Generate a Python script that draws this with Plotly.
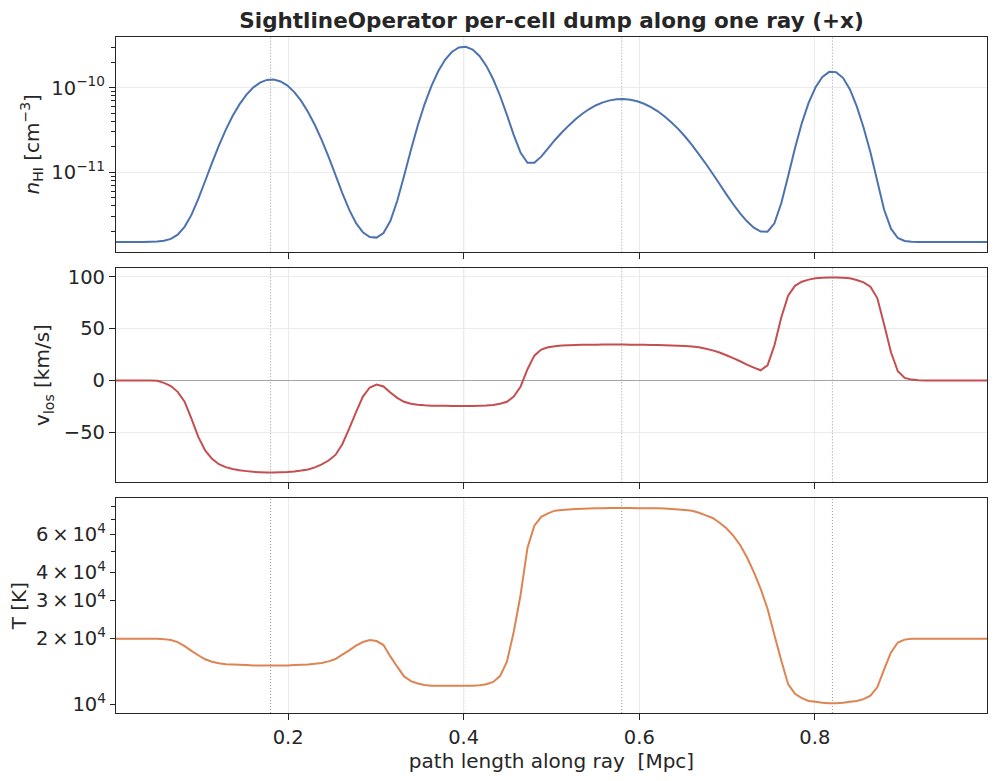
import numpy as np
import plotly.graph_objects as go
from plotly.subplots import make_subplots

# ---------------- data ----------------
n_cells = 128
path_mpc = (np.arange(n_cells) + 0.5) / n_cells   # cell centres along the ray [Mpc]

n_hi = [
    1.5e-12, 1.5e-12, 1.5e-12, 1.5e-12, 1.5e-12, 1.51e-12, 1.52e-12, 1.55e-12,
    1.63e-12, 1.83e-12, 2.26e-12, 3.13e-12, 4.85e-12, 7.88e-12, 1.292e-11, 2.067e-11,
    3.17e-11, 4.62e-11, 6.35e-11, 8.23e-11, 1.005e-10, 1.151e-10, 1.238e-10, 1.251e-10,
    1.187e-10, 1.059e-10, 8.87e-11, 6.99e-11, 5.17e-11, 3.62e-11, 2.40e-11, 1.518e-11,
    9.31e-12, 5.68e-12, 3.61e-12, 2.50e-12, 1.944e-12, 1.714e-12, 1.687e-12, 1.907e-12,
    2.65e-12, 4.57e-12, 9.05e-12, 1.83e-11, 3.57e-11, 6.41e-11, 1.053e-10, 1.579e-10,
    2.152e-10, 2.663e-10, 2.992e-10, 3.053e-10, 2.823e-10, 2.372e-10, 1.812e-10, 1.260e-10,
    8.04e-11, 4.77e-11, 2.755e-11, 1.70e-11, 1.297e-11, 1.296e-11, 1.531e-11, 1.917e-11,
    2.409e-11, 2.95e-11, 3.56e-11, 4.24e-11, 4.93e-11, 5.60e-11, 6.21e-11, 6.71e-11,
    7.09e-11, 7.31e-11, 7.34e-11, 7.22e-11, 6.91e-11, 6.46e-11, 5.89e-11, 5.26e-11,
    4.57e-11, 3.88e-11, 3.24e-11, 2.63e-11, 2.09e-11, 1.63e-11, 1.26e-11, 9.6e-12,
    7.25e-12, 5.48e-12, 4.18e-12, 3.26e-12, 2.63e-12, 2.21e-12, 1.99e-12, 1.98e-12,
    2.49e-12, 4.29e-12, 8.98e-12, 1.92e-11, 3.82e-11, 6.66e-11, 1.014e-10, 1.343e-10,
    1.541e-10, 1.53e-10, 1.31e-10, 9.6e-11, 6.05e-11, 3.38e-11, 1.72e-11, 7.9e-12,
    3.6e-12, 2.15e-12, 1.67e-12, 1.54e-12, 1.51e-12, 1.5e-12, 1.5e-12, 1.5e-12,
    1.5e-12, 1.5e-12, 1.5e-12, 1.5e-12, 1.5e-12, 1.5e-12, 1.5e-12, 1.5e-12,
]

v_los = [
    0, 0, 0, 0, 0, 0, -0.3, -2.3,
    -5.4, -11, -20.5, -36.8, -54.4, -67.4, -75.5, -80.7,
    -83.6, -85.4, -86.6, -87.4, -88.1, -88.4, -88.7, -88.8,
    -88.6, -88.3, -87.7, -86.9, -85.8, -83.8, -80.9, -77.2,
    -71.8, -61.5, -46.5, -30.5, -15.5, -6.8, -3.9, -5.8,
    -11.7, -16.8, -20.6, -22.5, -23.5, -24.0, -24.3, -24.4,
    -24.5, -24.6, -24.6, -24.7, -24.6, -24.4, -24.1, -23.6,
    -22.5, -20.6, -15.6, -5.8, 10.8, 23.9, 29.8, 32,
    33, 33.6, 33.9, 34.1, 34.3, 34.4, 34.5, 34.6,
    34.6, 34.6, 34.6, 34.5, 34.4, 34.3, 34.2, 34.1,
    33.9, 33.7, 33.4, 33.1, 32.75, 31.9, 30.6, 29.0,
    26.9, 24.3, 21.5, 18.5, 15.3, 12.3, 9.8, 14.6,
    33.7, 60.7, 81.8, 91.2, 95.2, 97.2, 98.4, 98.9,
    99.2, 99.3, 99.1, 98.4, 96.8, 94.5, 90.4, 79.4,
    54, 27.1, 8.8, 2.4, 0.8, 0.2, 0, 0,
    0, 0, 0, 0, 0, 0, 0, 0,
]

temp_k = [
    20000, 20000, 20000, 20000, 20000, 20000, 20000, 19900,
    19700, 19300, 18500, 17600, 16800, 16100, 15700, 15450,
    15300, 15250, 15200, 15150, 15100, 15100, 15100, 15100,
    15100, 15100, 15150, 15200, 15250, 15350, 15500, 15750,
    16150, 16900, 17700, 18600, 19300, 19700, 19500, 18700,
    16600, 14900, 13450, 12800, 12500, 12300, 12200, 12200,
    12200, 12200, 12200, 12200, 12200, 12250, 12400, 12700,
    13500, 15700, 21500, 31800, 52000, 65500, 71900, 74600,
    76700, 77300, 77700, 78000, 78300, 78500, 78600, 78700,
    78800, 78800, 78800, 78800, 78700, 78700, 78700, 78600,
    78500, 78100, 77700, 77200, 76600, 75000, 73000, 71000,
    67600, 63700, 59000, 53500, 47000, 40200, 33700, 27400,
    20800, 15900, 12400, 11200, 10700, 10400, 10300, 10200,
    10150, 10150, 10200, 10300, 10400, 10600, 11000, 12000,
    14500, 17300, 19200, 19800, 20000, 20000, 20000, 20000,
    20000, 20000, 20000, 20000, 20000, 20000, 20000, 20000,
]

component_centers = [0.18, 0.40, 0.58, 0.82]

x_tick_vals = [0.2, 0.4, 0.6, 0.8]
nhi_tick_vals = [1e-11, 1e-10]
nhi_tick_text = ["10<sup>\u221211</sup>", "10<sup>\u221210</sup>"]
nhi_minor_vals = [k * 1e-12 for k in range(2, 10)] + [k * 1e-11 for k in range(2, 10)] + [k * 1e-10 for k in range(2, 5)]
v_tick_vals = [-50, 0, 50, 100]
t_tick_vals = [1e4, 2e4, 3e4, 4e4, 6e4]
t_tick_text = ["10<sup>4</sup>", "2\u2009\u00d7\u200910<sup>4</sup>", "3\u2009\u00d7\u200910<sup>4</sup>",
               "4\u2009\u00d7\u200910<sup>4</sup>", "6\u2009\u00d7\u200910<sup>4</sup>"]
t_minor_vals = [5e4, 7e4, 8e4]

colors = {"nhi": "#4C72B0", "v": "#C44E52", "t": "#DD8452"}
INK = "#262626"
GRID = "#ebebeb"
TICK_SIZE = 19.5
LABEL_SIZE = 20


def auto_range(vals, log=False):
    a = np.log10(np.asarray(vals, dtype=float)) if log else np.asarray(vals, dtype=float)
    lo, hi = a.min(), a.max()
    pad = 0.05 * (hi - lo)
    return [lo - pad, hi + pad]


# ---------------- figure ----------------
W, H = 997, 781
mt, mb = 37, 68
plot_h = H - mt - mb
fig = make_subplots(rows=3, cols=1, shared_xaxes=True, vertical_spacing=16 / plot_h)

for row, (vals, key) in enumerate([(n_hi, "nhi"), (v_los, "v"), (temp_k, "t")], start=1):
    fig.add_trace(go.Scatter(x=path_mpc, y=vals, mode="lines",
                             line=dict(color=colors[key], width=2, simplify=False),
                             showlegend=False), row=row, col=1)

for c in component_centers:
    fig.add_vline(x=c, row="all", col=1, layer="below",
                  line=dict(color="rgba(120,120,120,0.75)", width=1, dash="1px,2px"))

# grid line at the single major decade of the temperature panel (log coordinates for shapes)
fig.add_shape(type="line", xref="x3 domain", x0=0, x1=1, yref="y3",
              y0=np.log10(t_tick_vals[0]), y1=np.log10(t_tick_vals[0]),
              line=dict(color=GRID, width=1), layer="below")

axis_common = dict(showline=True, linecolor=INK, linewidth=1.25, mirror=True,
                   ticks="outside", ticklen=6, tickwidth=1.2, tickcolor=INK,
                   showgrid=True, gridcolor=GRID, gridwidth=1, zeroline=False,
                   tickfont=dict(size=TICK_SIZE, color=INK))

xr = [float(path_mpc[0]), float(path_mpc[-1])]
for r in (1, 2, 3):
    fig.update_xaxes(axis_common, range=xr, tickmode="array", tickvals=x_tick_vals, row=r, col=1)
fig.update_xaxes(title=dict(text="path length along ray  [Mpc]",
                            font=dict(size=LABEL_SIZE, color=INK), standoff=6),
                 row=3, col=1)

fig.update_yaxes(axis_common, type="log", range=auto_range(n_hi, log=True),
                 tickmode="array", tickvals=nhi_tick_vals, ticktext=nhi_tick_text,
                 minor=dict(ticks="outside", ticklen=3.5, tickwidth=1, tickcolor=INK,
                            tickmode="array", tickvals=nhi_minor_vals, showgrid=False),
                 title=dict(text="<i>n</i><sub>HI</sub> [cm<sup>\u22123</sup>]",
                            font=dict(size=LABEL_SIZE, color=INK), standoff=6),
                 row=1, col=1)

fig.update_yaxes(axis_common, range=auto_range(v_los), tickmode="array", tickvals=v_tick_vals,
                 zeroline=True, zerolinecolor="#a6a6a6", zerolinewidth=1.2,
                 title=dict(text="v<sub>los</sub> [km/s]", font=dict(size=LABEL_SIZE, color=INK), standoff=8),
                 row=2, col=1)

fig.update_yaxes(axis_common, type="log", range=auto_range(temp_k, log=True),
                 tickmode="array", tickvals=t_tick_vals, ticktext=t_tick_text, ticklen=5,
                 showgrid=False,
                 minor=dict(ticks="outside", ticklen=3.5, tickwidth=1, tickcolor=INK,
                            tickmode="array", tickvals=t_minor_vals, showgrid=False),
                 title=dict(text="T [K]", font=dict(size=LABEL_SIZE, color=INK), standoff=3),
                 row=3, col=1)

fig.update_layout(
    width=W, height=H,
    margin=dict(l=116, r=10, t=mt, b=mb),
    paper_bgcolor="white", plot_bgcolor="white",
    font=dict(family="DejaVu Sans", color=INK),
    title=dict(text="<b>SightlineOperator per-cell dump along one ray (+x)</b>",
               x=0.5, xref="paper", xanchor="center",
               y=1 - 20 / H, yref="container", yanchor="middle",
               font=dict(size=21.5, color=INK)),
    showlegend=False,
)

fig.write_html("out.html")
